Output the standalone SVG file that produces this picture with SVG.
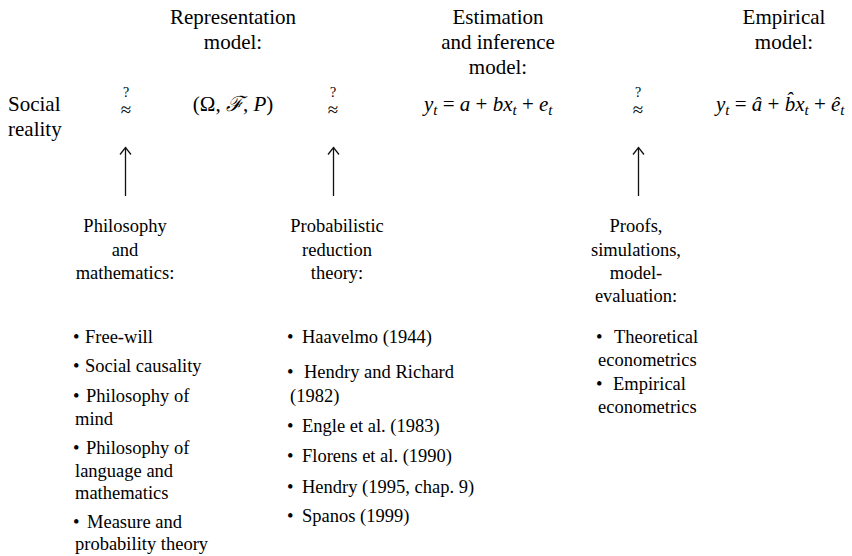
<svg xmlns="http://www.w3.org/2000/svg" width="852" height="556" viewBox="0 0 852 556" font-family="'Liberation Serif', 'Times New Roman', Times, 'DejaVu Serif', serif">
<defs>
<style>
text{font-family:'Liberation Serif','Times New Roman',Times,'DejaVu Serif',serif;fill:#000}
.h{font-size:21px;text-anchor:middle}
.m{font-size:21px}
.i{font-style:italic}
.sub{font-size:15px;font-style:italic}
.q{font-size:14px;text-anchor:middle}
.ap{font-size:19px;text-anchor:middle}
.l{font-size:18.5px;text-anchor:middle}
.b{font-size:18.5px}
.arr{stroke:#111;stroke-width:1.3;fill:none}
</style>
<marker id="ah" markerWidth="10" markerHeight="13" refX="8" refY="6.5" orient="auto" markerUnits="userSpaceOnUse" viewBox="0 0 10 13">
<path d="M1,1 L8,6.5 L1,12" stroke="#111" stroke-width="1.3" fill="none"/>
</marker>
</defs>
<rect width="852" height="556" fill="#fff"/>
<g id="social-reality">
<text class="m" x="8" y="111">Social</text>
<text class="m" x="8" y="136">reality</text>
</g>
<g id="representation">
<text class="h" x="233" y="24">Representation</text>
<text class="h" x="233" y="49">model:</text>
<text class="m" x="233" y="111" text-anchor="middle">(Ω, <tspan class="i">ℱ</tspan>, <tspan class="i">P</tspan>)</text>
</g>
<g id="estimation">
<text class="h" x="498" y="24">Estimation</text>
<text class="h" x="498" y="49">and inference</text>
<text class="h" x="498" y="74">model:</text>
<text class="m" x="424" y="111"><tspan class="i">y</tspan><tspan class="sub" dy="4">t</tspan><tspan dy="-4"> = </tspan><tspan class="i">a</tspan> + <tspan class="i">bx</tspan><tspan class="sub" dy="4">t</tspan><tspan dy="-4"> + </tspan><tspan class="i">e</tspan><tspan class="sub" dy="4">t</tspan></text>
</g>
<g id="empirical">
<text class="h" x="784" y="24">Empirical</text>
<text class="h" x="784" y="49">model:</text>
<text class="m" x="716" y="111"><tspan class="i">y</tspan><tspan class="sub" dy="4">t</tspan><tspan dy="-4"> = </tspan><tspan class="i">â</tspan> + <tspan class="i">b̂x</tspan><tspan class="sub" dy="4">t</tspan><tspan dy="-4"> + </tspan><tspan class="i">ê</tspan><tspan class="sub" dy="4">t</tspan></text>
</g>
<g id="approx-1">
<text class="q" x="126" y="97">?</text>
<text class="ap" x="126" y="115.5">≈</text>
</g>
<g id="approx-2">
<text class="q" x="333" y="97">?</text>
<text class="ap" x="333" y="115.5">≈</text>
</g>
<g id="approx-3">
<text class="q" x="638" y="97">?</text>
<text class="ap" x="638" y="115.5">≈</text>
</g>
<g id="connectors">
<line class="arr" x1="125.5" y1="196" x2="125.5" y2="147.5" marker-end="url(#ah)"/>
<line class="arr" x1="333.5" y1="196" x2="333.5" y2="147.5" marker-end="url(#ah)"/>
<line class="arr" x1="638.5" y1="196" x2="638.5" y2="147.5" marker-end="url(#ah)"/>
</g>
<g id="philosophy">
<text class="l" x="125" y="232">Philosophy</text>
<text class="l" x="125" y="256">and</text>
<text class="l" x="125" y="279">mathematics:</text>
</g>
<g id="probabilistic-reduction">
<text class="l" x="337" y="232">Probabilistic</text>
<text class="l" x="337" y="256">reduction</text>
<text class="l" x="337" y="279">theory:</text>
</g>
<g id="proofs">
<text class="l" x="636" y="232">Proofs,</text>
<text class="l" x="636" y="256">simulations,</text>
<text class="l" x="636" y="279">model-</text>
<text class="l" x="636" y="302">evaluation:</text>
</g>
<g id="philosophy-list">
<text class="b" x="73" y="343">•</text><text class="b" x="85" y="343">Free-will</text>
<text class="b" x="73" y="372">•</text><text class="b" x="85" y="372">Social causality</text>
<text class="b" x="73" y="402">•</text><text class="b" x="86" y="402">Philosophy of</text>
<text class="b" x="75" y="425">mind</text>
<text class="b" x="73" y="454">•</text><text class="b" x="86" y="454">Philosophy of</text>
<text class="b" x="75" y="477">language and</text>
<text class="b" x="75" y="499">mathematics</text>
<text class="b" x="73" y="528">•</text><text class="b" x="87" y="528">Measure and</text>
<text class="b" x="75" y="550">probability theory</text>
</g>
<g id="reduction-list">
<text class="b" x="287" y="343">•</text><text class="b" x="302" y="343">Haavelmo (1944)</text>
<text class="b" x="287" y="378">•</text><text class="b" x="304" y="378">Hendry and Richard</text>
<text class="b" x="290" y="402">(1982)</text>
<text class="b" x="287" y="432">•</text><text class="b" x="302" y="432">Engle et al. (1983)</text>
<text class="b" x="287" y="462">•</text><text class="b" x="302" y="462">Florens et al. (1990)</text>
<text class="b" x="287" y="493">•</text><text class="b" x="302" y="493">Hendry (1995, chap. 9)</text>
<text class="b" x="287" y="522">•</text><text class="b" x="302" y="522">Spanos (1999)</text>
</g>
<g id="econometrics-list">
<text class="b" x="596" y="343">•</text><text class="b" x="614" y="343">Theoretical</text>
<text class="b" x="598" y="366">econometrics</text>
<text class="b" x="596" y="390">•</text><text class="b" x="613" y="390">Empirical</text>
<text class="b" x="598" y="413">econometrics</text>
</g>
</svg>
